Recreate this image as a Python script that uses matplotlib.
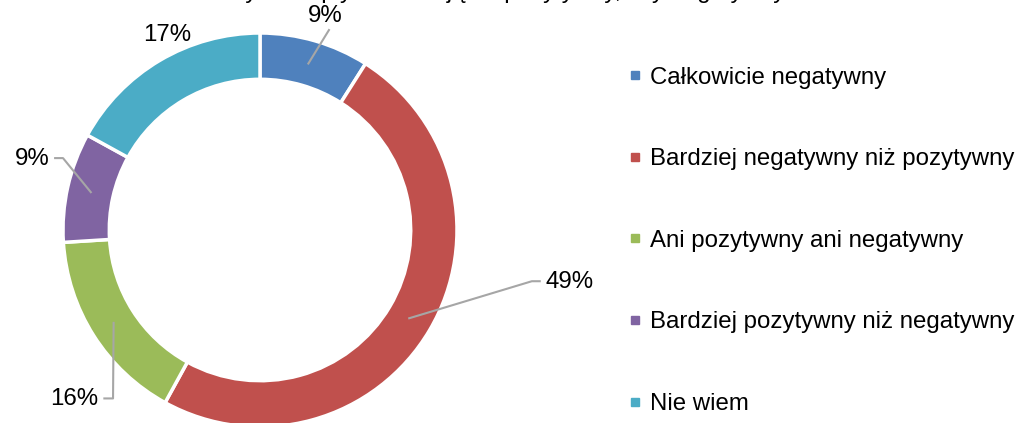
import numpy as np
import matplotlib.pyplot as plt
from matplotlib.lines import Line2D

plt.rcParams['font.family'] = ['Liberation Sans', 'DejaVu Sans']

categories = ['Całkowicie negatywny', 'Bardziej negatywny niż pozytywny',
              'Ani pozytywny ani negatywny', 'Bardziej pozytywny niż negatywny',
              'Nie wiem']
values = [9, 49, 16, 9, 17]
colors = ['#4F81BD', '#C0504D', '#9BBB59', '#8064A2', '#4BACC6']
title = 'Czy ten wpływ oceniają za pozytywny, czy negatywny'

# label layout: (text x, text y, elbow x or None, ha)
label_pos = [(0.33, 1.085, None, 'center'),
             (1.45, -0.265, 1.38, 'left'),
             (-0.82, -0.86, -0.746, 'right'),
             (-1.07, 0.36, -1.0, 'right'),
             (-0.47, 0.99, None, 'center')]

fig = plt.figure(figsize=(10.16, 4.23), dpi=100)
ax = fig.add_axes([63 / 1016, -4 / 423, 394 / 1016, 394 / 423])

wedges, _ = ax.pie(values, colors=colors, startangle=90, counterclock=False,
                   radius=1, wedgeprops=dict(width=0.235, edgecolor='white', linewidth=2.5))
for w in wedges:
    w.set_clip_on(False)
ax.set_xlim(-1, 1)
ax.set_ylim(-1, 1)
ax.axis('off')

total = sum(values)
start = 90.0
for v, (tx, ty, ex, ha) in zip(values, label_pos):
    span = v / total * 360
    mid = np.deg2rad(start - span / 2)
    start -= span
    px, py = 0.88 * np.cos(mid), 0.88 * np.sin(mid)
    ax.text(tx, ty, f'{v}%', ha=ha, va='center', fontsize=17.3, color='black', clip_on=False)
    if v == 17:
        continue
    if ex is None:
        ax.plot([0.35, px], [1.015, py], color='#A6A6A6', lw=1.5, clip_on=False)
    else:
        x0 = tx - 0.03 if ha == 'left' else tx + 0.03
        ax.plot([x0, ex, px], [ty + 0.005, ty + 0.005, py],
                color='#A6A6A6', lw=1.5, clip_on=False)

handles = [Line2D([], [], marker='s', linestyle='none', markersize=6,
                  markerfacecolor=c, markeredgecolor=c) for c in colors]
fig.legend(handles, categories, loc='upper left', bbox_to_anchor=(618 / 1016, 1 - 57 / 423),
           frameon=False, fontsize=17.3, handlelength=0.6, handletextpad=0.35,
           labelspacing=2.48, borderaxespad=0)

fig.text(0.493, 1 + 2 / 423, title, ha='center', va='baseline', fontsize=17.3)

fig.savefig('out.png', dpi=100)
